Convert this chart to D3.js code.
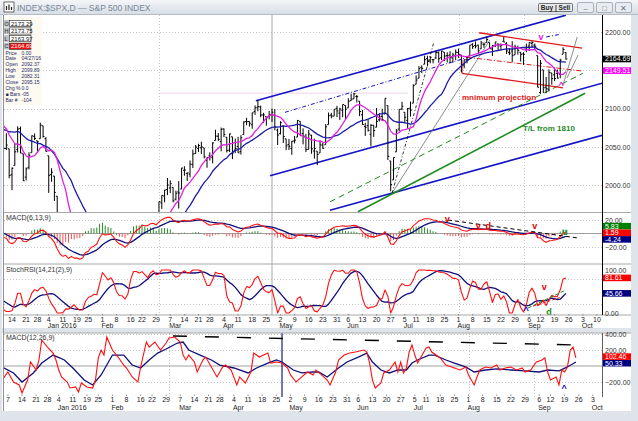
<!DOCTYPE html>
<html>
<head>
<meta charset="utf-8">
<script src="https://cdn.jsdelivr.net/npm/d3@7"></script>
<style>
  body { margin: 0; background: #fff; overflow: hidden; }
  svg { display: block; font-family: "Liberation Sans", Arial, sans-serif; }
</style>
</head>
<body>
<div id="chart"></div>
<script>
// ---- calendar ----
const holidays = ['2015-11-26', '2015-12-25', '2016-01-01', '2016-01-18', '2016-02-15',
  '2016-03-25', '2016-05-30', '2016-07-04', '2016-09-05'];

// closes before the first drawn bar (Oct 1 - Dec 4 2015), used to warm up the indicators
const warmupCloses = [
  1923.82, 1951.36, 1987.05, 1979.92, 1995.83, 2013.43, 2014.89, 2017.46, 2003.69, 1994.24, 2023.86,
  2033.11, 2033.66, 2030.77, 2018.94, 2052.51, 2075.15, 2071.18, 2065.89, 2090.35, 2089.41, 2079.36,
  2104.05, 2109.79, 2102.31, 2099.93, 2099.20, 2078.58, 2081.72, 2075.00, 2045.97, 2023.04,
  2053.19, 2050.44, 2083.58, 2081.24, 2089.17, 2086.59, 2089.14, 2088.87, 2090.11, 2080.41,
  2102.63, 2079.51, 2049.62, 2091.69
];

// daily bars: [day, open, high, low, close]
const dec2015 = [
  [7, 2090.42, 2090.42, 2066.78, 2077.07], [8, 2073.39, 2073.85, 2052.32, 2063.59],
  [9, 2061.17, 2080.33, 2036.53, 2047.62], [10, 2047.93, 2067.65, 2045.67, 2052.23],
  [11, 2047.27, 2047.27, 2008.80, 2012.37], [14, 2013.37, 2022.92, 1993.26, 2021.94],
  [15, 2025.55, 2053.87, 2025.55, 2043.41], [16, 2046.50, 2076.72, 2042.43, 2073.07],
  [17, 2073.76, 2076.37, 2041.66, 2041.89], [18, 2040.81, 2040.81, 2005.33, 2005.55],
  [21, 2010.27, 2022.90, 2005.93, 2021.15], [22, 2023.15, 2042.74, 2020.49, 2038.97],
  [23, 2042.20, 2064.73, 2042.20, 2064.29], [24, 2063.52, 2067.36, 2058.73, 2060.99],
  [28, 2057.77, 2057.77, 2044.20, 2056.50], [29, 2060.54, 2081.56, 2060.54, 2078.36],
  [30, 2077.34, 2077.34, 2061.97, 2063.36], [31, 2060.59, 2062.54, 2043.62, 2043.94]
];
const jan2016 = [
  [4, 2038.20, 2038.20, 1989.68, 2012.66], [5, 2013.78, 2021.94, 2004.17, 2016.71],
  [6, 2011.71, 2011.71, 1979.05, 1990.26], [7, 1985.32, 1985.32, 1938.83, 1943.09],
  [8, 1945.97, 1960.40, 1918.46, 1922.03], [11, 1926.12, 1935.65, 1901.10, 1923.67],
  [12, 1927.83, 1947.38, 1914.35, 1938.68], [13, 1940.34, 1950.33, 1886.41, 1890.28],
  [14, 1891.68, 1934.47, 1878.93, 1921.84], [15, 1916.68, 1916.68, 1857.83, 1880.33],
  [19, 1888.66, 1901.44, 1864.60, 1881.33], [20, 1876.18, 1876.18, 1812.29, 1859.33],
  [21, 1861.46, 1889.85, 1848.98, 1868.99], [22, 1877.40, 1908.85, 1877.40, 1906.90],
  [25, 1906.28, 1906.28, 1875.97, 1877.08], [26, 1878.79, 1906.73, 1878.79, 1903.63],
  [27, 1902.52, 1916.99, 1872.70, 1882.95], [28, 1885.22, 1902.96, 1873.65, 1893.36],
  [29, 1894.00, 1940.24, 1894.00, 1940.24]
];
const feb2016 = [
  [1, 1936.94, 1947.20, 1920.30, 1939.38], [2, 1935.26, 1935.26, 1897.29, 1903.03],
  [3, 1907.07, 1918.01, 1872.23, 1912.53], [4, 1911.67, 1927.35, 1900.52, 1915.45],
  [5, 1913.07, 1913.07, 1872.65, 1880.05], [8, 1873.25, 1873.25, 1828.46, 1853.44],
  [9, 1848.46, 1868.25, 1834.94, 1852.21], [10, 1857.10, 1881.60, 1850.32, 1851.86],
  [11, 1847.00, 1847.00, 1810.10, 1829.08], [12, 1833.40, 1864.78, 1833.40, 1864.78],
  [16, 1871.44, 1895.77, 1871.44, 1895.58], [17, 1898.80, 1930.68, 1898.80, 1926.82],
  [18, 1927.57, 1930.00, 1915.09, 1917.83], [19, 1916.74, 1918.78, 1902.17, 1917.78],
  [22, 1924.44, 1946.70, 1924.44, 1945.50], [23, 1942.38, 1942.38, 1919.44, 1921.27],
  [24, 1917.56, 1932.08, 1891.00, 1929.80], [25, 1931.87, 1951.83, 1925.41, 1951.70],
  [26, 1954.95, 1962.96, 1945.78, 1948.05], [29, 1947.13, 1958.27, 1931.81, 1932.23]
];
const mar2016 = [
  [1, 1937.09, 1978.35, 1937.09, 1978.35], [2, 1976.60, 1986.51, 1968.80, 1986.45],
  [3, 1985.60, 1993.69, 1977.37, 1993.40], [4, 1994.01, 2009.13, 1986.77, 1999.99],
  [7, 1996.11, 2006.12, 1989.38, 2001.76], [8, 1996.88, 1996.88, 1977.43, 1979.26],
  [9, 1981.44, 1992.69, 1979.84, 1989.26], [10, 1990.97, 2005.08, 1969.25, 1989.57],
  [11, 1994.71, 2022.37, 1994.71, 2022.19], [14, 2019.27, 2024.57, 2012.05, 2019.64],
  [15, 2015.27, 2015.94, 2005.23, 2015.93], [16, 2014.24, 2032.02, 2010.04, 2027.22],
  [17, 2026.90, 2046.24, 2022.16, 2040.59], [18, 2041.16, 2052.36, 2041.16, 2049.58],
  [21, 2047.88, 2053.91, 2043.14, 2051.60], [22, 2048.64, 2056.60, 2040.57, 2049.80],
  [23, 2048.55, 2048.55, 2034.86, 2036.71], [24, 2032.48, 2036.04, 2022.49, 2035.94],
  [28, 2037.89, 2042.67, 2031.96, 2037.05], [29, 2035.75, 2055.91, 2028.31, 2055.01],
  [30, 2058.27, 2072.21, 2058.27, 2063.95], [31, 2063.77, 2067.92, 2057.46, 2059.74]
];
const apr2016 = [
  [1, 2056.62, 2075.07, 2043.98, 2072.78], [4, 2073.19, 2074.02, 2062.57, 2066.13],
  [5, 2062.50, 2062.50, 2042.56, 2045.17], [6, 2045.56, 2067.33, 2043.09, 2066.66],
  [7, 2063.01, 2063.01, 2033.80, 2041.91], [8, 2045.54, 2060.63, 2041.69, 2047.60],
  [11, 2050.23, 2062.93, 2041.88, 2041.99], [12, 2043.72, 2065.05, 2039.74, 2061.72],
  [13, 2065.92, 2083.18, 2065.92, 2082.42], [14, 2082.89, 2087.84, 2078.13, 2082.78],
  [15, 2083.10, 2083.22, 2076.31, 2080.73], [18, 2078.83, 2094.66, 2073.65, 2094.34],
  [19, 2096.05, 2104.05, 2091.68, 2100.80], [20, 2101.52, 2111.05, 2096.32, 2102.40],
  [21, 2102.09, 2103.78, 2088.52, 2091.48], [22, 2091.49, 2094.32, 2081.20, 2091.58],
  [25, 2089.37, 2089.37, 2077.52, 2087.79], [26, 2089.84, 2096.87, 2085.80, 2091.70],
  [27, 2092.37, 2099.89, 2082.31, 2095.15], [28, 2090.93, 2099.30, 2071.62, 2075.81],
  [29, 2071.82, 2073.85, 2052.28, 2065.30]
];
const may2016 = [
  [2, 2067.17, 2083.42, 2066.11, 2081.43], [3, 2077.18, 2077.18, 2054.89, 2063.37],
  [4, 2060.30, 2060.30, 2045.55, 2051.12], [5, 2052.95, 2060.23, 2045.77, 2050.63],
  [6, 2047.77, 2057.72, 2039.45, 2057.14], [9, 2057.55, 2064.15, 2054.31, 2058.69],
  [10, 2062.63, 2084.87, 2062.63, 2084.39], [11, 2083.29, 2083.29, 2064.46, 2064.46],
  [12, 2067.17, 2073.99, 2053.13, 2064.11], [13, 2062.50, 2066.79, 2043.13, 2046.61],
  [16, 2046.53, 2071.88, 2046.53, 2066.66], [17, 2065.04, 2065.69, 2040.82, 2047.21],
  [18, 2044.38, 2060.61, 2034.49, 2047.63], [19, 2044.21, 2044.21, 2025.91, 2040.04],
  [20, 2041.88, 2058.35, 2041.88, 2052.32], [23, 2052.23, 2055.58, 2047.26, 2048.04],
  [24, 2052.65, 2079.67, 2052.65, 2076.06], [25, 2078.93, 2094.73, 2078.93, 2090.54],
  [26, 2091.44, 2094.30, 2087.08, 2090.10], [27, 2090.06, 2099.06, 2090.06, 2099.06],
  [31, 2100.13, 2103.48, 2088.66, 2096.95]
];
const jun2016 = [
  [1, 2093.94, 2100.97, 2085.10, 2099.33], [2, 2097.71, 2105.26, 2088.59, 2105.26],
  [3, 2104.07, 2104.07, 2085.36, 2099.13], [6, 2100.83, 2113.36, 2100.83, 2109.41],
  [7, 2110.18, 2119.22, 2110.18, 2112.13], [8, 2112.71, 2120.55, 2112.71, 2119.12],
  [9, 2115.65, 2117.64, 2107.73, 2115.48], [10, 2109.57, 2109.57, 2089.96, 2096.07],
  [13, 2091.75, 2098.12, 2078.46, 2079.06], [14, 2076.65, 2081.30, 2064.10, 2075.32],
  [15, 2077.60, 2085.65, 2069.80, 2071.50], [16, 2066.36, 2079.62, 2050.37, 2077.99],
  [17, 2078.20, 2078.20, 2062.84, 2071.22], [20, 2075.58, 2100.66, 2075.58, 2083.25],
  [21, 2085.19, 2093.66, 2083.02, 2088.90], [22, 2089.75, 2099.71, 2084.36, 2085.45],
  [23, 2092.80, 2113.32, 2092.80, 2113.32], [24, 2103.81, 2103.81, 2032.57, 2037.41],
  [27, 2031.45, 2031.45, 1991.68, 2000.54], [28, 2006.67, 2036.09, 2006.67, 2036.09],
  [29, 2043.29, 2073.13, 2043.29, 2070.77], [30, 2073.17, 2098.94, 2070.00, 2098.86]
];
const jul2016 = [
  [1, 2099.34, 2108.71, 2097.90, 2102.95], [5, 2095.05, 2095.05, 2080.86, 2088.55],
  [6, 2084.43, 2100.72, 2074.02, 2099.73], [7, 2100.42, 2109.08, 2089.39, 2097.90],
  [8, 2106.97, 2131.71, 2106.97, 2129.90], [11, 2131.72, 2143.16, 2131.72, 2137.16],
  [12, 2139.50, 2155.40, 2139.50, 2152.14], [13, 2153.81, 2156.45, 2146.21, 2152.43],
  [14, 2157.88, 2169.05, 2157.88, 2163.75], [15, 2165.13, 2168.99, 2155.29, 2161.74],
  [18, 2162.04, 2168.35, 2159.07, 2166.89], [19, 2163.79, 2164.63, 2159.01, 2163.78],
  [20, 2166.10, 2175.63, 2164.89, 2173.02], [21, 2172.91, 2174.56, 2159.75, 2165.17],
  [22, 2166.47, 2175.11, 2163.24, 2175.03], [25, 2173.71, 2173.71, 2161.95, 2168.48],
  [26, 2168.97, 2173.54, 2160.18, 2169.18], [27, 2169.81, 2174.98, 2159.07, 2166.58],
  [28, 2166.05, 2172.85, 2159.74, 2170.06], [29, 2168.83, 2177.09, 2163.49, 2173.60]
];
const aug2016 = [
  [1, 2173.15, 2178.29, 2166.21, 2170.84], [2, 2169.94, 2170.20, 2147.58, 2157.03],
  [3, 2156.81, 2163.79, 2152.61, 2163.79], [4, 2163.51, 2168.19, 2159.07, 2164.25],
  [5, 2168.79, 2182.87, 2168.79, 2182.87], [8, 2183.76, 2185.44, 2177.85, 2180.89],
  [9, 2182.24, 2187.66, 2178.61, 2181.74], [10, 2182.81, 2183.41, 2172.00, 2175.49],
  [11, 2177.97, 2188.45, 2177.97, 2185.79], [12, 2183.74, 2186.28, 2179.42, 2184.05],
  [15, 2186.08, 2193.81, 2186.08, 2190.15], [16, 2186.24, 2186.24, 2178.14, 2178.15],
  [17, 2177.84, 2183.08, 2168.50, 2182.22], [18, 2181.90, 2187.03, 2180.46, 2187.02],
  [19, 2184.24, 2185.00, 2175.13, 2183.87], [22, 2181.58, 2185.15, 2175.96, 2182.64],
  [23, 2187.81, 2193.42, 2186.80, 2186.90], [24, 2185.09, 2186.66, 2171.25, 2175.44],
  [25, 2173.29, 2179.00, 2169.74, 2172.47], [26, 2175.10, 2187.94, 2160.39, 2169.04],
  [29, 2170.19, 2183.48, 2170.19, 2180.38], [30, 2179.45, 2182.27, 2170.41, 2176.12],
  [31, 2173.56, 2173.79, 2161.35, 2170.95]
];
const sep2016 = [
  [1, 2171.33, 2173.56, 2157.09, 2170.86], [2, 2177.49, 2184.87, 2173.59, 2179.98],
  [6, 2181.61, 2186.57, 2175.10, 2186.48], [7, 2185.17, 2187.87, 2179.07, 2186.16],
  [8, 2182.76, 2184.94, 2177.49, 2181.30], [9, 2169.08, 2169.08, 2127.81, 2127.81],
  [12, 2120.86, 2163.30, 2119.12, 2159.04], [13, 2150.47, 2150.47, 2120.27, 2127.02],
  [14, 2127.86, 2141.33, 2119.90, 2125.77], [15, 2125.36, 2151.31, 2122.36, 2147.26],
  [16, 2146.48, 2146.48, 2131.20, 2139.16], [19, 2143.99, 2153.61, 2135.91, 2139.12],
  [20, 2145.94, 2150.80, 2139.17, 2139.76], [21, 2144.58, 2165.11, 2139.57, 2163.12],
  [22, 2170.94, 2179.99, 2170.94, 2177.18], [23, 2173.29, 2173.75, 2163.97, 2164.69]
];
const months = [['2015-12', dec2015], ['2016-01', jan2016], ['2016-02', feb2016], ['2016-03', mar2016],
  ['2016-04', apr2016], ['2016-05', may2016], ['2016-06', jun2016], ['2016-07', jul2016],
  ['2016-08', aug2016], ['2016-09', sep2016]];

// lower pane MACD(12,26,9): [trading days from 2015-12-14, value]
const lowerMacd = [
  [-7, -175], [-5, -75], [-3, -200], [-1, -237], [0, -337], [2, -175], [3, 50], [5, -50], [6, 75], [7, 325],
  [9, 237], [11, 162], [12, 75], [13, -50], [14, -137], [16, -200], [17, -275], [19, -262], [20, -325],
  [21, -212], [23, -262], [25, -275], [26, -175], [27, 100], [28, 200], [29, 137], [30, 362], [32, 200],
  [34, 112], [36, 12], [37, -25], [39, -137], [41, -200], [42, -12], [44, 300], [45, 237], [47, 300],
  [49, 200], [51, 287], [52, 350], [54, 362], [56, 300], [57, 137], [58, 75], [59, 137], [61, 50],
  [62, -75], [64, 75], [65, 112], [67, -12], [69, -137], [71, -12], [72, 12], [74, -50], [76, -237],
  [77, -137], [79, -212], [81, -75], [82, 162], [84, 112], [87, 162], [88, 37], [90, 50], [92, 37],
  [94, -25], [95, -112], [97, -200], [99, -137], [101, -75], [103, -112], [104, -50], [106, -112],
  [108, -175], [109, -237], [111, -75], [112, 75], [114, 137], [116, 162], [118, 175], [121, 200],
  [122, 175], [123, 37], [124, -175], [125, -275], [127, -212], [128, -87], [130, -50], [132, 50],
  [133, -75], [134, 50], [135, -87], [136, -25], [137, 175], [138, 262], [139, 137], [140, 37],
  [141, 100], [143, 225], [144, 237], [145, 175], [148, 100], [150, 12], [152, -12], [155, -50],
  [157, -12], [158, -112], [160, -237], [161, -137], [162, -50], [164, -12], [166, -25], [168, 12],
  [169, -50], [171, -25], [173, -12], [175, -50], [177, -25], [178, -75], [180, -50], [182, 50],
  [184, 75], [185, 100], [186, -75], [187, -175], [189, -137], [190, -237], [191, -50], [192, -75],
  [193, -12], [194, 200], [195, 237], [196, 102.46]
];
const lowerSignal = [
  [-7, -12], [-3, -87], [0, -200], [4, -87], [7, 37], [11, 137], [15, 75], [18, -25], [22, -175],
  [25, -237], [28, -112], [32, 137], [36, 137], [39, 12], [42, -25], [45, 75], [48, 162], [51, 212],
  [55, 287], [57, 300], [59, 200], [63, 137], [67, 75], [70, 12], [75, -25], [80, -87], [83, -25],
  [87, 37], [90, 75], [92, 50], [96, -50], [99, -87], [103, -75], [105, -75], [108, -137], [112, -25],
  [115, 50], [119, 112], [122, 162], [124, 50], [127, -50], [130, -87], [133, -50], [136, -50],
  [138, 37], [140, 75], [144, 137], [146, 137], [150, 75], [153, 37], [157, -12], [160, -75],
  [164, -50], [168, -37], [173, -50], [178, -62], [183, -75], [186, -50], [190, -62], [193, -12],
  [196, 50.33]
];

// last values shown in the axis boxes
const priceBoxes = [['2164.69', 2164.69, '#000000'], ['2149.51', 2149.51, '#ff00ff']];
const macdBoxes = [['5.83', 5.83, '#008000'], ['-4.24', -4.24, '#000080'], ['1.59', 1.59, '#ff0000']];
const stochBoxes = [['81.61', 81.61, '#ff0000'], ['45.66', 45.66, '#000080']];
const lowerBoxes = [['50.33', 50.33, '#000080'], ['102.46', 102.46, '#ff0000']];

const legendOHLC = [['O', '2173.29'], ['H', '2173.75'], ['L', '2163.97'], ['C', '2164.69']];
const legendInfo = [['Price', '0.00'], ['Date', '04/27/16'], ['Open', '2092.37'], ['High', '2099.89'],
  ['Low', '2082.31'], ['Close', '2095.15'], ['Chg %', '0.0'], ['\u25A0 Bars', '-05'], ['Bar #', '-104']];

// hand-drawn trend lines: [fromDay, fromValue, toDay, toValue], days counted from 2015-12-14
const blueChannel = [[86.3, 2110, 196, 2222], [91.3, 2012, 208.8, 2133], [112.5, 1967, 208.8, 2065]];
const blueMidline = [[96.6, 2095, 161.4, 2167], [189, 2193.5, 194, 2197]];
const greenTrend = [[122.4, 1965, 202.8, 2120]];
const greenDashed = [[112.5, 1978, 202, 2146]];
const redChannel = [[165.3, 2199, 201.7, 2179], [159.2, 2146, 195, 2127], [159.2, 2163, 159.2, 2146]];
const redMidline = [[161, 2167, 201.7, 2149]];
const fanLines = [[134.5, 1989.5, 169.1, 2189.5], [195, 2130.7, 200, 2193.5], [196.4, 2139.9, 200.3, 2169.9]];
const fanDashDot = [[134.5, 1989.5, 149.3, 2187]];
const priceNotes = [[187.2, 2194, 'v', '#e020e0'], [194.3, 2131, '^', '#e020e0']];
const priceLabels = [[159.2, 2115, 'mnimum projection', '#e01a1a'], [180.8, 2075, 'T/L from 1810', '#1f8a1f']];
const macdTrend = [[154.3, 20, 200.3, -6.7]];
const macdNotes = [[154, 22, 'v', '#e00000'], [165, 11, 'v', '#e00000'], [168.5, 11, 'd', '#e00000'],
  [185, 11, 'v', '#e00000'], [195.7, 1.5, 'u', '#1a8a1a']];
const stochTrend = [[182.6, 11.6, 196, 53.5]];
const stochRed = [[184.4, 16, 193.9, 36]];
const stochNotes = [[188.3, 60, 'v', '#e00000'], [181.9, 7, '^', '#1010c0'], [190, 3, 'd', '#1a8a1a']];
const lowerTrend = [[53.4, 375, 197.5, 262]];
const lowerNotes = [[191.8, -280, '^', '#1010c0']];

// ---- build series ----
function tradingDays(from, to) {
  const out = [];
  const end = new Date(to + 'T00:00:00Z');
  for (let d = new Date(from + 'T00:00:00Z'); d <= end; d.setUTCDate(d.getUTCDate() + 1)) {
    const iso = d.toISOString().slice(0, 10);
    const wd = d.getUTCDay();
    if (wd === 0 || wd === 6 || holidays.includes(iso)) continue;
    out.push(iso);
  }
  return out;
}
const calendar = tradingDays('2015-10-01', '2016-10-14');
const dayIndex = new Map(calendar.map((d, i) => [d, i]));
const base = dayIndex.get('2015-12-14');

const bars = months.flatMap(([ym, rows]) => rows.map(([day, o, h, l, c]) => ({
  i: dayIndex.get(`${ym}-${String(day).padStart(2, '0')}`), o, h, l, c
})));
const closes = warmupCloses.concat(bars.map(b => b.c));

function sma(v, n) {
  return v.map((_, i) => {
    if (i < n - 1) return null;
    const w = v.slice(i - n + 1, i + 1);
    return w.some(a => a == null) ? null : d3.mean(w);
  });
}
function ema(v, n) {
  const k = 2 / (n + 1);
  let prev = v[0];
  return v.map((a, i) => (prev = i === 0 ? a : prev + (a - prev) * k));
}
function rsi(c, n) {
  const out = new Array(c.length).fill(null);
  let g = 0, l = 0;
  for (let i = 1; i <= n; i++) { const d = c[i] - c[i - 1]; if (d > 0) g += d; else l -= d; }
  g /= n; l /= n;
  out[n] = 100 - 100 / (1 + g / l);
  for (let i = n + 1; i < c.length; i++) {
    const d = c[i] - c[i - 1];
    g = (g * (n - 1) + Math.max(d, 0)) / n;
    l = (l * (n - 1) + Math.max(-d, 0)) / n;
    out[i] = l === 0 ? 100 : 100 - 100 / (1 + g / l);
  }
  return out;
}
function stochOf(v, n) {
  return v.map((a, i) => {
    if (i < n - 1 || a == null) return null;
    const w = v.slice(i - n + 1, i + 1);
    if (w.some(b => b == null)) return null;
    const lo = d3.min(w), hi = d3.max(w);
    return hi === lo ? 50 : (a - lo) / (hi - lo) * 100;
  });
}

const ma10 = sma(closes, 10);
const ma20 = sma(closes, 20);
const e6 = ema(closes, 6), e13 = ema(closes, 13);
const macd = closes.map((_, i) => e6[i] - e13[i]);
const signal = ema(macd, 9);
const hist = macd.map((m, i) => m - signal[i]);
const stochK = sma(stochOf(rsi(closes, 14), 21), 2);
const stochD = sma(stochK, 9);

// ---- layout ----
const W = 638, H = 421;
const left = 4, right = 602;
const panes = {
  price: [15, 212], macd: [213, 263], stoch: [265, 315], lower: [333, 397]
};
const x = d3.scaleLinear().domain([base, base + 207]).range([12, 597]);
const xl = d3.scaleLinear().domain([base, base + 207]).range([22, 607]);
const yPrice = d3.scaleLinear().domain([2000, 2200]).range([185, 32]);
const yMacd = d3.scaleLinear().domain([-20, 20]).range([247, 220]);
const yStoch = d3.scaleLinear().domain([0, 100]).range([313, 270]);
const yLower = d3.scaleLinear().domain([-200, 200]).range([382, 350]);

const svg = d3.select('#chart').append('svg').attr('width', W).attr('height', H);
const defs = svg.append('defs');
const grad = defs.append('linearGradient').attr('id', 'tbar').attr('x1', 0).attr('x2', 0).attr('y1', 0).attr('y2', 1);
grad.append('stop').attr('offset', 0).attr('stop-color', '#f4f6f9');
grad.append('stop').attr('offset', 1).attr('stop-color', '#d5dce4');

svg.append('rect').attr('width', W).attr('height', H).attr('fill', '#ffffff');

Object.entries(panes).forEach(([k, [t, b]]) => {
  defs.append('clipPath').attr('id', 'clip-' + k)
    .append('rect').attr('x', left).attr('y', t).attr('width', right - left).attr('height', b - t);
});

// frame strips
svg.append('rect').attr('x', 0).attr('y', 328).attr('width', W).attr('height', 5).attr('fill', '#dfe4ea');
svg.append('rect').attr('x', 0).attr('y', 411).attr('width', W).attr('height', 10).attr('fill', '#dfe4ea');
svg.append('rect').attr('x', 631).attr('y', 15).attr('width', 7).attr('height', H - 15).attr('fill', '#dfe4ea');
svg.append('rect').attr('x', 0).attr('y', 15).attr('width', 2).attr('height', H - 15).attr('fill', '#dfe4ea');

const dotted = { stroke: '#c4c4c4', 'stroke-width': 1, 'stroke-dasharray': '1,2' };
function styled(sel, st) { Object.entries(st).forEach(([k, v]) => sel.attr(k, v)); return sel; }

// horizontal grid
[[yPrice, [2000, 2050, 2100, 2150, 2200]], [yMacd, [-20, 20]], [yStoch, [20, 80]], [yLower, [-200, 200, 400]]]
  .forEach(([ys, vals]) => vals.forEach(v => {
    styled(svg.append('line').attr('x1', left).attr('x2', right)
      .attr('y1', Math.round(ys(v)) + 0.5).attr('y2', Math.round(ys(v)) + 0.5), dotted);
  }));

// vertical grid at month starts
['2016-03-01', '2016-08-01', '2016-09-01'].forEach(d => {
  const xi = Math.round(x(dayIndex.get(d))) + 0.5;
  styled(svg.append('line').attr('x1', xi).attr('x2', xi).attr('y1', 15).attr('y2', 315), dotted);
  const xj = Math.round(xl(dayIndex.get(d))) + 0.5;
  styled(svg.append('line').attr('x1', xj).attr('x2', xj).attr('y1', 333).attr('y2', 397), dotted);
});

// zero lines
svg.append('line').attr('x1', left).attr('x2', right).attr('y1', yMacd(0)).attr('y2', yMacd(0))
  .attr('stroke', '#a0a0a0').attr('stroke-width', 1);
svg.append('line').attr('x1', left).attr('x2', right).attr('y1', yLower(0)).attr('y2', yLower(0))
  .attr('stroke', '#a0a0a0').attr('stroke-width', 1);

// cursor line at 04/27/16
const cursorDay = dayIndex.get('2016-04-27');
svg.append('line').attr('x1', x(cursorDay)).attr('x2', x(cursorDay)).attr('y1', 15).attr('y2', 315)
  .attr('stroke', '#a8a8a8').attr('stroke-width', 1);
svg.append('line').attr('x1', xl(cursorDay)).attr('x2', xl(cursorDay)).attr('y1', 333).attr('y2', 397)
  .attr('stroke', '#1a1a7a').attr('stroke-width', 1.2);

// ---- helpers ----
function segments(g, xs, ys, list, stroke, width, dash) {
  list.forEach(([a, va, b, vb]) => {
    const l = g.append('line')
      .attr('x1', xs(base + a)).attr('y1', ys(va))
      .attr('x2', xs(base + b)).attr('y2', ys(vb))
      .attr('stroke', stroke).attr('stroke-width', width);
    if (dash) l.attr('stroke-dasharray', dash);
  });
}
function notes(g, xs, ys, list) {
  list.forEach(([a, v, t, c]) => {
    g.append('text').attr('x', xs(base + a)).attr('y', ys(v) + 3)
      .attr('text-anchor', 'middle').attr('font-size', 9).attr('font-weight', 'bold')
      .attr('fill', c).text(t);
  });
}
function series(g, xs, ys, values, color, width) {
  const pts = values.map((v, i) => [i, v]).filter(d => d[1] != null && d[0] >= base - 5);
  g.append('path').datum(pts)
    .attr('d', d3.line().x(d => xs(d[0])).y(d => ys(d[1])))
    .attr('fill', 'none').attr('stroke', color).attr('stroke-width', width)
    .attr('stroke-linejoin', 'round');
}

// ---- price pane ----
const gp = svg.append('g').attr('clip-path', 'url(#clip-price)');

gp.append('line').attr('x1', x(base + 52)).attr('x2', x(base + 140))
  .attr('y1', yPrice(2120)).attr('y2', yPrice(2120)).attr('stroke', '#ecd6ec').attr('stroke-width', 1);

segments(gp, x, yPrice, blueChannel, '#1414c8', 1.6);
segments(gp, x, yPrice, blueMidline, '#1414c8', 1, '4,2,1,2');
segments(gp, x, yPrice, greenTrend, '#1f8a1f', 1.6);
segments(gp, x, yPrice, greenDashed, '#1f8a1f', 1, '6,4');
segments(gp, x, yPrice, redChannel, '#e01a1a', 1.3);
segments(gp, x, yPrice, redMidline, '#e01a1a', 1, '5,2,1,2');
segments(gp, x, yPrice, fanLines, '#707070', 0.8);
segments(gp, x, yPrice, fanDashDot, '#000000', 0.8, '3,2,1,2');

// OHLC bars
bars.forEach(b => {
  const xi = x(b.i);
  gp.append('path')
    .attr('d', `M${xi},${yPrice(b.h)}V${yPrice(b.l)}M${xi - 1.4},${yPrice(b.o)}H${xi}M${xi},${yPrice(b.c)}H${xi + 1.4}`)
    .attr('stroke', '#000').attr('stroke-width', 1).attr('fill', 'none');
});

series(gp, x, yPrice, ma20, '#1c1ca8', 1.3);
series(gp, x, yPrice, ma10, '#e020e0', 1.3);

priceLabels.forEach(([a, v, t, c]) => {
  gp.append('text').attr('x', x(base + a)).attr('y', yPrice(v) + 3)
    .attr('font-size', 8).attr('font-weight', 'bold').attr('fill', c).text(t);
});
notes(gp, x, yPrice, priceNotes);

// ---- MACD(6,13,9) pane ----
const gm = svg.append('g').attr('clip-path', 'url(#clip-macd)');
hist.forEach((h, i) => {
  if (i < base - 5) return;
  gm.append('line').attr('x1', x(i)).attr('x2', x(i))
    .attr('y1', yMacd(0)).attr('y2', yMacd(h))
    .attr('stroke', h >= 0 ? '#2a8a2a' : '#f05050').attr('stroke-width', 1);
});
series(gm, x, yMacd, signal, '#10107a', 1.3);
series(gm, x, yMacd, macd, '#ff1010', 1.1);
segments(gm, x, yMacd, macdTrend, '#000', 1, '4,3');
notes(gm, x, yMacd, macdNotes);
gm.append('text').attr('x', 6).attr('y', 220).attr('font-size', 7).attr('fill', '#333').text('MACD(6,13,9)');

// ---- StochRSI pane ----
const gs = svg.append('g').attr('clip-path', 'url(#clip-stoch)');
series(gs, x, yStoch, stochD, '#10107a', 1.3);
series(gs, x, yStoch, stochK, '#ff1010', 1.1);
segments(gs, x, yStoch, stochTrend, '#1f8a1f', 1, '4,2');
segments(gs, x, yStoch, stochRed, '#e01a1a', 1, '3,2');
notes(gs, x, yStoch, stochNotes);
gs.append('text').attr('x', 6).attr('y', 272).attr('font-size', 7).attr('fill', '#333').text('StochRSI(14,21(2),9)');

// ---- lower MACD(12,26,9) pane ----
const gl = svg.append('g').attr('clip-path', 'url(#clip-lower)');
segments(gl, xl, yLower, lowerTrend, '#000', 1.4, '14,18');
const lowerLine = d3.line().x(d => xl(base + d[0])).y(d => yLower(d[1]));
gl.append('path').datum(lowerSignal).attr('d', lowerLine)
  .attr('fill', 'none').attr('stroke', '#10107a').attr('stroke-width', 1.3);
gl.append('path').datum(lowerMacd).attr('d', lowerLine)
  .attr('fill', 'none').attr('stroke', '#ff1010').attr('stroke-width', 1.1);
notes(gl, xl, yLower, lowerNotes);
gl.append('text').attr('x', 6).attr('y', 340).attr('font-size', 7).attr('fill', '#333').text('MACD(12,26,9)');

// ---- pane borders ----
[212.5, 264, 315].forEach(y => {
  svg.append('line').attr('x1', left - 1).attr('x2', 631).attr('y1', y).attr('y2', y)
    .attr('stroke', '#a8a8a8').attr('stroke-width', 1.2);
});
svg.append('line').attr('x1', left - 1).attr('x2', 631).attr('y1', 333).attr('y2', 333)
  .attr('stroke', '#a8a8a8').attr('stroke-width', 1);
svg.append('line').attr('x1', 3.5).attr('x2', 3.5).attr('y1', 15).attr('y2', 411)
  .attr('stroke', '#909090').attr('stroke-width', 1);
svg.append('line').attr('x1', right + 0.5).attr('x2', right + 0.5).attr('y1', 15).attr('y2', 315)
  .attr('stroke', '#000').attr('stroke-width', 1);
svg.append('line').attr('x1', right + 0.5).attr('x2', right + 0.5).attr('y1', 333).attr('y2', 397)
  .attr('stroke', '#606060').attr('stroke-width', 1);

// ---- right axes ----
function rightAxis(ys, vals) {
  const g = svg.append('g').attr('transform', `translate(${right + 1},0)`)
    .call(d3.axisRight(ys).tickValues(vals).tickSize(0).tickPadding(2).tickFormat(d3.format('.2f')));
  g.select('.domain').remove();
  g.selectAll('text').attr('font-size', 7).attr('fill', '#333').attr('font-family', '"Liberation Sans", Arial, sans-serif');
}
// the 2150 / 0 / 50 levels sit under the value boxes and are not labelled
rightAxis(yPrice, [2000, 2050, 2100, 2200]);
rightAxis(yMacd, [-20, 20]);
rightAxis(yStoch, [0, 100]);
rightAxis(yLower, [-200, 200, 400]);

// value boxes, stacked so they do not cover each other
function valueBoxes(ys, list) {
  const h = 6.6;
  const items = list.map(([label, v, fill]) => ({ label, fill, y: ys(v) }));
  const order = items.slice().sort((a, b) => a.y - b.y);
  const meanY = d3.mean(order, d => d.y);
  let pos = order.map(d => d.y);
  for (let k = 1; k < pos.length; k++) pos[k] = Math.max(pos[k], pos[k - 1] + h);
  const shift = pos.some((p, k) => p !== order[k].y) ? meanY - d3.mean(pos) : 0;
  order.forEach((d, k) => { d.py = pos[k] + shift; });
  items.forEach(d => {
    svg.append('rect').attr('x', right + 1).attr('y', d.py - h / 2).attr('width', 28).attr('height', h).attr('fill', d.fill);
    svg.append('text').attr('x', right + 3).attr('y', d.py + 2.4).attr('font-size', 7)
      .attr('fill', '#fff').text(d.label);
  });
}
valueBoxes(yPrice, priceBoxes);
valueBoxes(yMacd, macdBoxes);
valueBoxes(yStoch, stochBoxes);
valueBoxes(yLower, lowerBoxes);

// ---- date axes ----
function dateAxis(xs, fromDate, yDay, yMonth) {
  const days = calendar.slice(dayIndex.get(fromDate), dayIndex.get('2016-10-10') + 1);
  const weekly = days.filter((d, k) => {
    if (k === 0) return true;
    const prev = new Date(days[k - 1] + 'T00:00:00Z');
    const cur = new Date(d + 'T00:00:00Z');
    return cur.getUTCDay() < prev.getUTCDay() || (cur - prev) > 4 * 86400000;
  });
  const g = svg.append('g').attr('font-size', 7).attr('fill', '#222');
  let lastMonth = weekly[0].slice(0, 7);
  weekly.forEach(d => {
    const xi = xs(dayIndex.get(d));
    if (xi > right) return;
    g.append('line').attr('x1', xi).attr('x2', xi).attr('y1', yDay - 7.5).attr('y2', yDay - 6)
      .attr('stroke', '#777').attr('stroke-width', 0.8);
    g.append('text').attr('x', xi).attr('y', yDay).attr('text-anchor', 'middle').text(+d.slice(8, 10));
    const ym = d.slice(0, 7);
    if (ym !== lastMonth) {
      lastMonth = ym;
      const dt = new Date(d + 'T00:00:00Z');
      let name = dt.toLocaleString('en-US', { month: 'short', timeZone: 'UTC' });
      if (dt.getUTCMonth() === 0) name += ' ' + dt.getUTCFullYear();
      g.append('text').attr('x', xi - 1).attr('y', yMonth).text(name);
    }
  });
}
dateAxis(x, '2015-12-14', 321.5, 328);
dateAxis(xl, '2015-12-07', 402, 409.5);

// ---- legend ----
const lg = svg.append('g');
lg.append('rect').attr('x', 4).attr('y', 17).attr('width', 38).attr('height', 88).attr('fill', '#fdfaf1');
legendOHLC.forEach(([k, v], r) => {
  const yy = 20 + r * 7.6;
  lg.append('rect').attr('x', 4).attr('y', yy).attr('width', 5).attr('height', 6.6).attr('fill', '#b8bec6');
  lg.append('text').attr('x', 4.6).attr('y', yy + 5.6).attr('font-size', 5.5).attr('fill', '#333').text(k);
  const red = r === 3;
  lg.append('rect').attr('x', 9.5).attr('y', yy + 0.3).attr('width', 21.5).attr('height', 6.2)
    .attr('fill', red ? '#ee1111' : '#fff').attr('stroke', '#222').attr('stroke-width', 0.6);
  lg.append('text').attr('x', 11).attr('y', yy + 5.6).attr('font-size', 6)
    .attr('fill', red ? '#fff' : '#111').text(v);
});
legendInfo.forEach(([k, v], r) => {
  const yy = 54.5 + r * 5.9;
  lg.append('text').attr('x', 5.5).attr('y', yy).attr('font-size', 5).attr('fill', '#1c2a6a').text(k);
  lg.append('text').attr('x', 21.5).attr('y', yy).attr('font-size', 5).attr('fill', '#1c2a6a').text(v);
});

// ---- title bar ----
svg.append('rect').attr('width', W).attr('height', 15).attr('fill', 'url(#tbar)');
svg.append('line').attr('x1', 0).attr('x2', W).attr('y1', 14.5).attr('y2', 14.5).attr('stroke', '#b4bcc6');
const icon = svg.append('g').attr('transform', 'translate(4,2)');
icon.append('rect').attr('width', 10).attr('height', 10).attr('fill', '#fff').attr('stroke', '#444').attr('stroke-width', 0.8);
icon.append('path').attr('d', 'M2.5,8V4M5,8V2.5M7.5,8V5').attr('stroke', '#222').attr('stroke-width', 1.2);
svg.append('text').attr('x', 17).attr('y', 10.5).attr('font-size', 8.5).attr('fill', '#7a8698')
  .text('INDEX:$SPX,D  \u2014  S&P 500 INDEX');
const btn = svg.append('g');
btn.append('rect').attr('x', 538.5).attr('y', 3.5).attr('width', 34).attr('height', 8).attr('rx', 1)
  .attr('fill', '#e6e9ed').attr('stroke', '#555').attr('stroke-width', 0.8);
btn.append('text').attr('x', 555.5).attr('y', 10).attr('text-anchor', 'middle').attr('font-size', 6.5)
  .attr('font-weight', 'bold').attr('fill', '#222').text('Buy | Sell');
[[577, '\u2013'], [596, '\u25A1'], [615, '\u2715']].forEach(([bx, s]) => {
  btn.append('rect').attr('x', bx + 0.5).attr('y', 2.5).attr('width', 16).attr('height', 10).attr('rx', 1.5)
    .attr('fill', '#e8ecf0').attr('stroke', '#9aa2ac').attr('stroke-width', 0.8);
  btn.append('text').attr('x', bx + 8.5).attr('y', 10.5).attr('text-anchor', 'middle').attr('font-size', 7.5)
    .attr('fill', '#6a7480').text(s);
});
</script>
</body>
</html>
